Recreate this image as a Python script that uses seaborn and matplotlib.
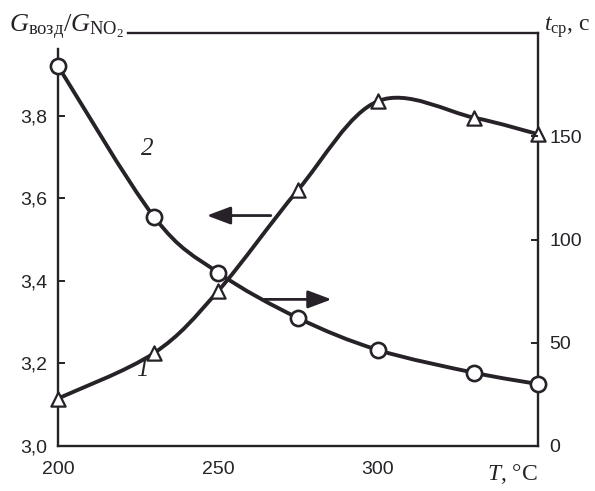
import numpy as np
import matplotlib
matplotlib.use("Agg")
import matplotlib.pyplot as plt
from matplotlib.path import Path
from matplotlib.patches import PathPatch
import seaborn as sns
import pandas as pd

# ---- data ----
T_tri = [200, 230, 250, 275, 300, 330, 350]
ratio = [3.115, 3.225, 3.375, 3.62, 3.835, 3.795, 3.755]      # curve 1, left axis
T_circ = [200, 230, 250, 275, 300, 330, 350]
t_cp = [184, 111, 84, 62, 46.5, 35.5, 30]                       # curve 2, right axis

x_ticks = [200, 250, 300]
x_labels = ["200", "250", "300"]
left_ticks = [3.0, 3.2, 3.4, 3.6, 3.8]
left_labels = ["3,0", "3,2", "3,4", "3,6", "3,8"]
right_ticks = [0, 50, 100, 150]
right_labels = ["0", "50", "100", "150"]

sns.set_theme(style="white")
plt.rcParams["font.family"] = ["Liberation Sans", "DejaVu Sans"]
plt.rcParams["mathtext.fontset"] = "custom"
plt.rcParams["mathtext.rm"] = "Liberation Serif"
plt.rcParams["mathtext.it"] = "Liberation Serif:italic"

INK = "#262228"
W, H = 595, 491
fig = plt.figure(figsize=(W / 100, H / 100), dpi=100)
fig.patch.set_facecolor("white")
ax = fig.add_axes([58 / W, 1 - 446 / H, (538 - 58) / W, (446 - 33) / H])
ax.set_facecolor("none")
ax2 = ax.twinx()

ax.set_xlim(200, 350)
ax.set_ylim(3.0, 4.0)
ax2.set_ylim(0, 200)


def smooth_patch(xs, ys, **kw):
    P = np.column_stack([xs, ys]).astype(float)
    n = len(P)
    verts = [P[0]]
    codes = [Path.MOVETO]
    for i in range(n - 1):
        p0 = P[i - 1] if i > 0 else P[i]
        p3 = P[i + 2] if i + 2 < n else P[i + 1]
        c1 = P[i] + (P[i + 1] - p0) / 6.0
        c2 = P[i + 1] - (p3 - P[i]) / 6.0
        verts += [c1, c2, P[i + 1]]
        codes += [Path.CURVE4] * 3
    return PathPatch(Path(verts, codes), fill=False, **kw)


ax.add_patch(smooth_patch(T_tri, ratio, edgecolor=INK, lw=2.8, zorder=3,
                          capstyle="round", joinstyle="round"))
ax2.add_patch(smooth_patch(T_circ, t_cp, edgecolor=INK, lw=2.8, zorder=3,
                           capstyle="round", joinstyle="round"))

df1 = pd.DataFrame({"T": T_tri, "v": ratio})
df2 = pd.DataFrame({"T": T_circ, "v": t_cp})
sns.scatterplot(data=df1, x="T", y="v", ax=ax, marker="^", s=105,
                facecolor="white", edgecolor=INK, linewidth=1.6, zorder=5, clip_on=False)
sns.scatterplot(data=df2, x="T", y="v", ax=ax2, marker="o", s=120,
                facecolor="white", edgecolor=INK, linewidth=1.9, zorder=5, clip_on=False)

ax.set_xlabel("")
ax.set_ylabel("")
ax2.set_xlabel("")
ax2.set_ylabel("")

# spines
for s in ax2.spines.values():
    s.set_visible(False)
for name, s in ax.spines.items():
    s.set_visible(True)
    s.set_color(INK)
    s.set_linewidth(1.7)
ax.spines["left"].set_bounds(3.0, 3.962)
ax.spines["top"].set_bounds(222, 350)

ax.set_xticks(x_ticks)
ax.set_xticklabels(x_labels)
ax.set_yticks(left_ticks)
ax.set_yticklabels(left_labels)
ax2.set_yticks(right_ticks)
ax2.set_yticklabels(right_labels)

ax.tick_params(axis="x", direction="in", length=5, width=1.4, color=INK,
               labelsize=14, labelcolor=INK, pad=11, top=False)
ax.tick_params(axis="y", direction="in", length=5, width=1.4, color=INK,
               labelsize=14, labelcolor=INK, pad=8, right=False)
ax2.tick_params(axis="y", direction="in", length=5, width=1.4, color=INK,
                labelsize=14, labelcolor=INK, pad=8)
ax.grid(False)
ax2.grid(False)

# x-axis quantity label in place of last tick
ax.text(350, -0.068, r"$T$, °C", transform=ax.get_xaxis_transform(),
        ha="right", va="center", fontsize=17, color=INK, family="Liberation Serif")

# axis titles at the top corners
fig.text(9 / W, 1 - 27 / H, r"$G_{\mathrm{возд}}/G_{\mathrm{NO}_2}$",
         ha="left", va="center", fontsize=19, color=INK)
fig.text(544 / W, 1 - 27 / H, r"$t_{\mathrm{ср}}$, с",
         ha="left", va="center", fontsize=17, color=INK, family="Liberation Serif")

# curve numbers
ax.text(228.0, 3.72, "2", fontsize=18, style="italic", family="Liberation Serif",
        color=INK, ha="center", va="center")
ax.text(226.5, 3.185, "1", fontsize=18, style="italic", family="Liberation Serif",
        color=INK, ha="center", va="center")

# arrows showing which axis each curve belongs to
arrow = "-|>,head_length=1.2,head_width=0.45"
ax.annotate("", xy=(246.5, 3.558), xytext=(266.5, 3.558),
            arrowprops=dict(arrowstyle=arrow, color=INK, lw=2.0,
                            shrinkA=0, shrinkB=0), zorder=4)
ax2.annotate("", xy=(285.5, 71), xytext=(264.5, 71),
             arrowprops=dict(arrowstyle=arrow, color=INK, lw=2.0,
                             shrinkA=0, shrinkB=0), zorder=4)

fig.savefig("out.png", dpi=100, facecolor="white")
